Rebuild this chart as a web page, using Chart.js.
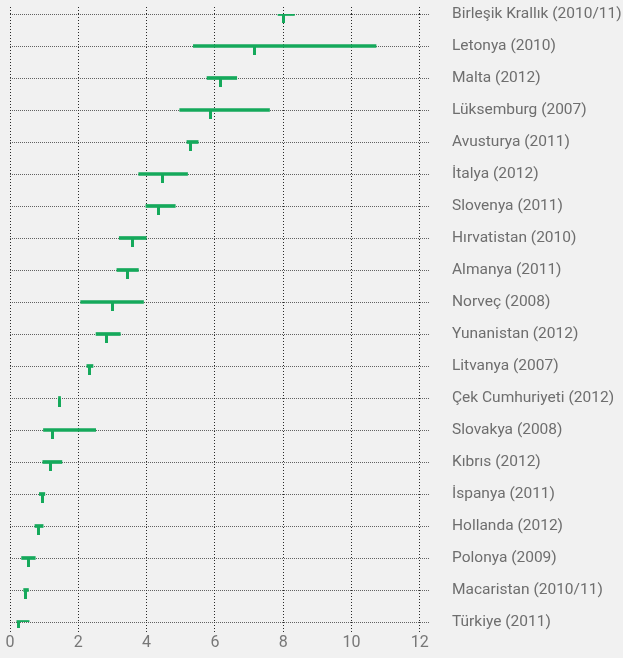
<!DOCTYPE html>
<html>
<head>
<meta charset="utf-8">
<script src="https://cdn.jsdelivr.net/npm/chart.js@4/dist/chart.umd.min.js"></script>
<style>
  html, body { margin: 0; padding: 0; background: #f1f1f1; }
  #wrap { width: 623px; height: 658px; }
</style>
</head>
<body>
<div id="wrap"><canvas id="chart"></canvas></div>
<script>
const countries = [
  'Birleşik Krallık (2010/11)', 'Letonya (2010)', 'Malta (2012)', 'Lüksemburg (2007)',
  'Avusturya (2011)', 'İtalya (2012)', 'Slovenya (2011)', 'Hırvatistan (2010)',
  'Almanya (2011)', 'Norveç (2008)', 'Yunanistan (2012)', 'Litvanya (2007)',
  'Çek Cumhuriyeti (2012)', 'Slovakya (2008)', 'Kıbrıs (2012)', 'İspanya (2011)',
  'Hollanda (2012)', 'Polonya (2009)', 'Macaristan (2010/11)', 'Türkiye (2011)'
];
const lows  = [7.85, 5.37, 5.77, 4.97, 5.18, 3.77, 3.98, 3.20, 3.13, 2.07, 2.52, 2.25, 1.42, 0.98, 0.96, 0.86, 0.73, 0.34, 0.40, 0.20];
const highs = [8.33, 10.72, 6.64, 7.60, 5.51, 5.20, 4.84, 3.99, 3.76, 3.91, 3.23, 2.43, 1.48, 2.51, 1.52, 1.02, 0.97, 0.74, 0.54, 0.56];
const mids  = [8.02, 7.15, 6.15, 5.88, 5.28, 4.48, 4.35, 3.60, 3.45, 2.99, 2.84, 2.34, 1.45, 1.23, 1.18, 0.94, 0.83, 0.55, 0.46, 0.24];
const xTicks = [0, 2, 4, 6, 8, 10, 12];

const green = '#15a95b';
const font = 'Roboto, "Liberation Sans", sans-serif';

// small marker hanging down from the range line
const marker = document.createElement('canvas');
marker.width = 3;
marker.height = 20;
const mctx = marker.getContext('2d');
mctx.fillStyle = green;
mctx.fillRect(0, 10, 3, 9);

const xAxis = {
  type: 'linear',
  min: 0,
  max: 12.3,
  border: { display: false, dash: [1, 2] },
  grid: {
    color: 'rgba(20,20,20,0.9)',
    lineWidth: 1,
    tickLength: 10,
    tickBorderDash: [1, 2],
    tickColor: 'rgba(20,20,20,0.9)'
  },
  ticks: {
    includeBounds: false,
    stepSize: 2,
    padding: 1,
    color: '#777',
    font: { family: font, size: 16 }
  },
  afterBuildTicks: (scale) => { scale.ticks = xTicks.map(v => ({ value: v })); }
};

const ctx = document.getElementById('chart').getContext('2d');

new Chart(ctx, {
  type: 'bar',
  data: {
    labels: countries,
    datasets: [
      {
        label: 'aralık',
        data: lows.map((v, i) => [v, highs[i]]),
        backgroundColor: green,
        borderWidth: 0,
        borderSkipped: false,
        barThickness: 3,
        order: 2
      },
      {
        label: 'değer',
        type: 'line',
        indexAxis: 'y',
        data: mids.map((v, i) => ({ x: v, y: countries[i] })),
        showLine: false,
        pointStyle: marker,
        pointRadius: 5,
        pointHoverRadius: 5,
        order: 1
      }
    ]
  },
  options: {
    indexAxis: 'y',
    responsive: true,
    maintainAspectRatio: false,
    animation: false,
    events: [],
    layout: { padding: { left: 10, top: 7, right: 0, bottom: 0 } },
    plugins: {
      legend: { display: false },
      tooltip: { enabled: false }
    },
    scales: {
      x: Object.assign({}, xAxis, {
        position: 'bottom',
        afterFit: (scale) => { scale.height = 36; }
      }),
      x2: Object.assign({}, xAxis, {
        position: 'top',
        grid: Object.assign({}, xAxis.grid, { drawOnChartArea: false, tickLength: 7 }),
        ticks: Object.assign({}, xAxis.ticks, { display: false }),
        afterFit: (scale) => { scale.height = 7; }
      }),
      y: {
        type: 'category',
        position: 'right',
        offset: false,
        border: { display: false, dash: [1, 1] },
        grid: {
          offset: false,
          drawTicks: false,
          color: 'rgba(50,50,50,0.75)',
          lineWidth: 1
        },
        ticks: {
          padding: 22,
          color: '#6e6e6e',
          font: { family: font, size: 15.5 }
        },
        afterFit: (scale) => {
          scale.width = 193;
          // label gap shouldn't push the plot area down
          scale.paddingTop = 0;
          scale.paddingBottom = 0;
        }
      }
    }
  }
});
</script>
</body>
</html>
